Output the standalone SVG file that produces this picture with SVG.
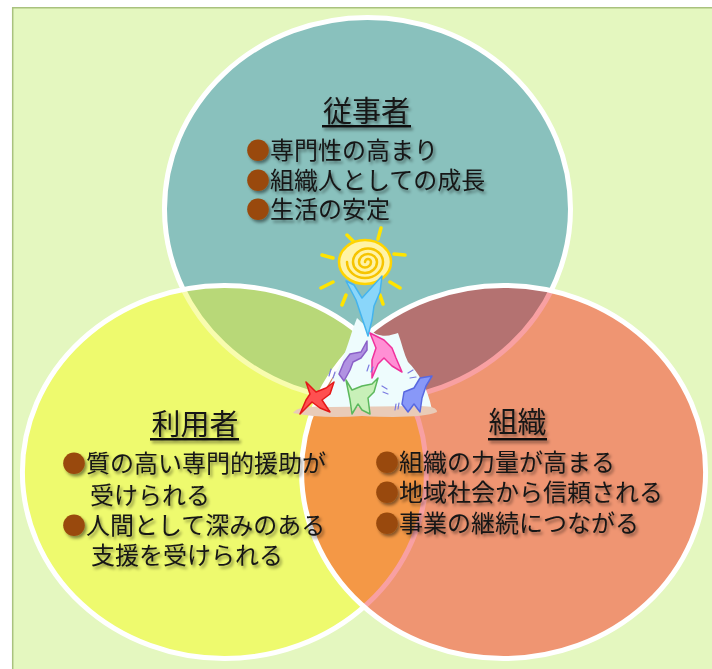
<svg xmlns="http://www.w3.org/2000/svg" xmlns:xlink="http://www.w3.org/1999/xlink" width="712" height="669" viewBox="0 0 712 669">
  <style>
    .lbl { font-family: "Noto Sans CJK JP", "Noto Sans CJK SC", sans-serif; fill: #161616; }
    .title { font-size: 29px; text-anchor: middle; }
    .item { font-size: 24px; }
    .dot { fill: #994a0c; }
    .uline { fill: #111; }
    .ray { stroke: #ffe400; stroke-width: 3.5; stroke-linecap: round; fill: none; }
  </style>
  <defs>
    <ellipse id="eT" cx="367.5" cy="209" rx="203" ry="191.5"/>
    <ellipse id="eY" cx="224.4" cy="472" rx="202" ry="186.5"/>
    <ellipse id="eO" cx="503.6" cy="472" rx="202" ry="186.5"/>
    <clipPath id="cT"><use href="#eT"/></clipPath>
    <clipPath id="cY"><use href="#eY"/></clipPath>
    <clipPath id="cO"><use href="#eO"/></clipPath>
    <filter id="sh" x="-10%" y="-30%" width="130%" height="170%">
      <feDropShadow dx="2" dy="2.5" stdDeviation="1.6" flood-color="#000" flood-opacity="0.45"/>
    </filter>
  </defs>

  <!-- backdrop -->
  <g id="backdrop">
    <rect x="0" y="0" width="712" height="669" fill="#ffffff"/>
    <rect x="12" y="7" width="700" height="662" fill="#e4f7bf"/>
    <path d="M12.7 669 V7.7 H712" fill="none" stroke="#a9c27e" stroke-width="1.5"/>
  </g>

  <!-- staff circle -->
  <g id="node-staff">
    <use href="#eT" fill="#89c1bd" stroke="#ffffff" stroke-width="5"/>
  </g>

  <!-- user circle, with its overlap on the staff circle -->
  <g id="node-user">
    <use href="#eY" fill="#eefa6e"/>
    <g clip-path="url(#cY)">
      <use href="#eT" fill="#b8d878" stroke="#f8fcae" stroke-width="5"/>
    </g>
    <use href="#eY" fill="none" stroke="#ffffff" stroke-width="5"/>
  </g>

  <!-- organisation circle, with its overlaps -->
  <g id="node-org">
    <use href="#eO" fill="#ef9572"/>
    <g clip-path="url(#cO)">
      <use href="#eT" fill="#b47271" stroke="#f8a0a2" stroke-width="5"/>
      <use href="#eY" fill="#f49846" stroke="#f8a0a2" stroke-width="5"/>
      <g clip-path="url(#cY)">
        <use href="#eT" fill="#c98a5c" stroke="#f8a0a2" stroke-width="5"/>
      </g>
    </g>
    <use href="#eO" fill="none" stroke="#ffffff" stroke-width="5"/>
  </g>

  <!-- centre picture: sun over a mound of figures -->
  <g id="emblem">
    <!-- rays -->
    <path class="ray" d="M347 235 L353 241 M381 228 L378 239 M322 255 L333 258 M394 254 L405 255 M321 288 L333 282 M390 282 L400 288 M346 295 L342 305 M380 295 L383 304"/>
    <!-- sun -->
    <ellipse cx="365" cy="262" rx="26" ry="22" fill="#fff3a6" stroke="#ffd400" stroke-width="2.5"/>
    <path d="M365 262 A3 3 0 0 1 371 262 A6 5.5 0 0 1 359 262 A9 8 0 0 1 377 262 A12 11 0 0 1 353 262 A15 13.5 0 0 1 383 262 A18 16 0 0 1 347 262" fill="none" stroke="#f6c400" stroke-width="2.5" stroke-linecap="round"/>
    <!-- mound and ground -->
    <path d="M318 410 C326 392 334 376 342 360 C348 346 352 330 357 318 C362 322 368 330 376 334 C386 338 394 334 398 333 C402 344 404 354 408 362 C418 372 428 388 432 410 Z" fill="#eefcfd"/>
    <path d="M293 413 Q298 405 330 407 L420 406 Q437 406 437 412 Q420 419 362 416 Q322 419 293 413 Z" fill="#e9cbb8"/>
    <!-- blue figure reaching the sun -->
    <path d="M346 281 L354 285 L362 298 L372 287 L382 276 L380 292 L374 306 L372 320 L368 336 L362 318 L356 300 Z" fill="#8ad6fa" stroke="#44b4ee" stroke-width="1.5" stroke-linejoin="round"/>
    <!-- pink figure -->
    <path d="M370 333 L384 340 L392 348 L396 358 L402 372 L392 366 L384 358 L378 364 L372 378 L372 360 L376 348 Z" fill="#ff8fd4" stroke="#f0309c" stroke-width="1.5" stroke-linejoin="round"/>
    <!-- purple figure -->
    <path d="M367 341 L361 352 L350 354 L344 362 L339 374 L344 381 L350 370 L353 362 L361 358 L367 350 Z" fill="#b192e2" stroke="#8a60c8" stroke-width="1.5" stroke-linejoin="round"/>
    <!-- red figure -->
    <path d="M306 382 L316 392 L326 388 L334 382 L330 394 L322 400 L330 412 L320 408 L312 402 L300 414 L306 400 L310 394 Z" fill="#ff5050" stroke="#e41818" stroke-width="1.5" stroke-linejoin="round"/>
    <!-- green figure -->
    <path d="M346 380 L352 390 L362 386 L372 384 L378 378 L374 392 L368 398 L370 414 L362 410 L358 404 L352 414 L350 400 Z" fill="#c8f0b8" stroke="#5cb85c" stroke-width="1.5" stroke-linejoin="round"/>
    <!-- violet figure -->
    <path d="M404 392 L414 388 L420 378 L432 376 L426 386 L422 398 L420 412 L414 404 L408 412 L402 404 Z" fill="#8898f8" stroke="#5868e0" stroke-width="1.5" stroke-linejoin="round"/>
    <!-- motion ticks -->
    <path d="M329 376 l2 -7 M333 378 l2 -6 M367 371 l2 -6 M371 372 l2 -5 M382 386 l5 3 M383 392 l5 2 M396 404 l-1 6 M399 403 l-1 6 M408 373 l5 -3 M410 378 l6 -1" fill="none" stroke="#7a7ae0" stroke-width="1.2" stroke-linecap="round"/>
  </g>

  <!-- staff labels -->
  <g id="label-staff" class="lbl" filter="url(#sh)">
    <text class="title" x="366.5" y="122">従事者</text>
    <rect class="uline" x="322" y="125" width="89" height="2.5"/>
    <text class="item" x="246" y="159"><tspan class="dot">●</tspan>専門性の高まり</text>
    <text class="item" x="246" y="189"><tspan class="dot">●</tspan>組織人としての成長</text>
    <text class="item" x="246" y="218"><tspan class="dot">●</tspan>生活の安定</text>
  </g>

  <!-- user labels -->
  <g id="label-user" class="lbl" filter="url(#sh)">
    <text class="title" x="195" y="435">利用者</text>
    <rect class="uline" x="150" y="438" width="89" height="2.5"/>
    <text class="item" x="62" y="472"><tspan class="dot">●</tspan>質の高い専門的援助が</text>
    <text class="item" x="90" y="504">受けられる</text>
    <text class="item" x="91" y="564">支援を受けられる</text>
    <text class="item" x="62" y="534"><tspan class="dot">●</tspan>人間として深みのある</text>
  </g>

  <!-- organisation labels -->
  <g id="label-org" class="lbl" filter="url(#sh)">
    <text class="title" x="517.5" y="433">組織</text>
    <rect class="uline" x="488" y="438" width="59" height="2.5"/>
    <text class="item" x="375" y="471"><tspan class="dot">●</tspan>組織の力量が高まる</text>
    <text class="item" x="375" y="501"><tspan class="dot">●</tspan>地域社会から信頼される</text>
    <text class="item" x="375" y="532"><tspan class="dot">●</tspan>事業の継続につながる</text>
  </g>
</svg>
